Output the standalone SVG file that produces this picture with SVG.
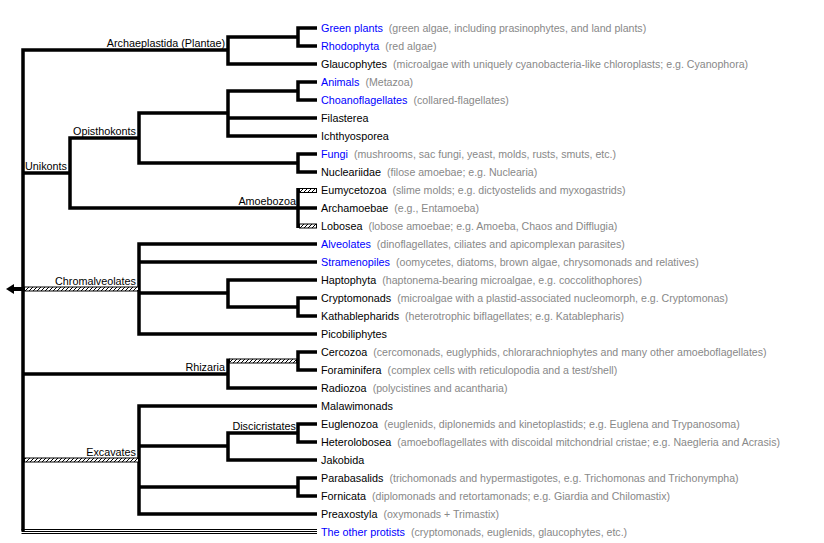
<svg xmlns="http://www.w3.org/2000/svg" width="824" height="543" viewBox="0 0 824 543">
<style>
text{font-family:"Liberation Sans",Arial,sans-serif;font-size:10.8px;fill:#000}
.b{fill:#0000ff}
.d{fill:#888888;font-size:10.6px}
.ln{fill:none;stroke:#000;stroke-width:3.5;stroke-linejoin:miter;stroke-linecap:butt}
.th{fill:none;stroke:#000;stroke-width:1}
.hb{fill:url(#hatch);stroke:#000;stroke-width:1}
</style>
<defs>
<pattern id="hatch" patternUnits="userSpaceOnUse" width="4" height="4">
<rect width="4" height="4" fill="#fff"/>
<path d="M-1,5 L5,-1" stroke="#000" stroke-width="1"/>
</pattern>
</defs>
<rect width="824" height="543" fill="#fff"/>
<g id="connectors">
<path class="ln" d="M228,50 H23 V531"/>
<path class="ln" d="M317,28 H298 V46 H317"/>
<path class="ln" d="M298,37 H228 V64 H317"/>
<path class="ln" d="M317,82 H298 V100 H317"/>
<path class="ln" d="M298,91 H228 V136 H317"/>
<path class="ln" d="M228,118 H317"/>
<path class="ln" d="M228,113 H139 V163 H298"/>
<path class="ln" d="M317,154 H298 V172 H317"/>
<path class="ln" d="M139,138 H70 V208 H317"/>
<path class="ln" d="M70,173 H23"/>
<path class="ln" d="M298,188 V228"/>
<rect class="hb" x="299.5" y="188.5" width="17" height="4"/>
<rect class="hb" x="299.5" y="224" width="17" height="4"/>
<path class="ln" d="M317,244 H139 V334 H317"/>
<path class="ln" d="M139,262 H317"/>
<path class="ln" d="M139,293 H228"/>
<path class="ln" d="M317,280 H228 V307 H298"/>
<path class="ln" d="M317,298 H298 V316 H317"/>
<rect class="hb" x="24.5" y="287" width="114" height="4"/>
<polygon points="6,289 14,284 14,294" fill="#000"/>
<rect x="14" y="287" width="8" height="4" fill="#000"/>
<path class="ln" d="M317,352 H298 V370 H317"/>
<rect class="hb" x="229.5" y="359" width="67" height="4"/>
<path class="ln" d="M228,358.5 V388 H317"/>
<path class="ln" d="M228,374 H23"/>
<path class="ln" d="M317,406 H139 V514 H317"/>
<path class="ln" d="M317,424 H298 V442 H317"/>
<path class="ln" d="M298,433 H228 V460 H317"/>
<path class="ln" d="M228,446 H139"/>
<path class="ln" d="M317,478 H298 V496 H317"/>
<path class="ln" d="M298,487 H139"/>
<rect class="hb" x="24.5" y="458" width="114" height="4"/>
<path class="th" d="M21.5,529.5 H317 M21.5,531.5 H317 M21.5,533.5 H317"/>
</g>
<g id="clade-labels">
<g id="archaeplastida"><text x="225" y="47" text-anchor="end">Archaeplastida (Plantae)</text></g>
<g id="opisthokonts"><text x="136" y="135" text-anchor="end">Opisthokonts</text></g>
<g id="unikonts"><text x="67" y="170" text-anchor="end">Unikonts</text></g>
<g id="amoebozoa"><text x="296" y="205" text-anchor="end">Amoebozoa</text></g>
<g id="chromalveolates"><text x="136" y="285" text-anchor="end">Chromalveolates</text></g>
<g id="rhizaria"><text x="225" y="371" text-anchor="end">Rhizaria</text></g>
<g id="discicristates"><text x="296" y="430" text-anchor="end">Discicristates</text></g>
<g id="excavates"><text x="136" y="456" text-anchor="end">Excavates</text></g>
</g>
<g id="leaves">
<g id="green-plants"><text x="321" y="32"><tspan class="b">Green plants</tspan> <tspan class="d" dx="3">(green algae, including prasinophytes, and land plants)</tspan></text></g>
<g id="rhodophyta"><text x="321" y="50"><tspan class="b">Rhodophyta</tspan> <tspan class="d" dx="3">(red algae)</tspan></text></g>
<g id="glaucophytes"><text x="321" y="68"><tspan>Glaucophytes</tspan> <tspan class="d" dx="3">(microalgae with uniquely cyanobacteria-like chloroplasts; e.g. Cyanophora)</tspan></text></g>
<g id="animals"><text x="321" y="86"><tspan class="b">Animals</tspan> <tspan class="d" dx="3">(Metazoa)</tspan></text></g>
<g id="choanoflagellates"><text x="321" y="104"><tspan class="b">Choanoflagellates</tspan> <tspan class="d" dx="3">(collared-flagellates)</tspan></text></g>
<g id="filasterea"><text x="321" y="122">Filasterea</text></g>
<g id="ichthyosporea"><text x="321" y="140">Ichthyosporea</text></g>
<g id="fungi"><text x="321" y="158"><tspan class="b">Fungi</tspan> <tspan class="d" dx="3">(mushrooms, sac fungi, yeast, molds, rusts, smuts, etc.)</tspan></text></g>
<g id="nucleariidae"><text x="321" y="176"><tspan>Nucleariidae</tspan> <tspan class="d" dx="3">(filose amoebae; e.g. Nuclearia)</tspan></text></g>
<g id="eumycetozoa"><text x="321" y="194"><tspan>Eumycetozoa</tspan> <tspan class="d" dx="3">(slime molds; e.g. dictyostelids and myxogastrids)</tspan></text></g>
<g id="archamoebae"><text x="321" y="212"><tspan>Archamoebae</tspan> <tspan class="d" dx="3">(e.g., Entamoeba)</tspan></text></g>
<g id="lobosea"><text x="321" y="230"><tspan>Lobosea</tspan> <tspan class="d" dx="3">(lobose amoebae; e.g. Amoeba, Chaos and Difflugia)</tspan></text></g>
<g id="alveolates"><text x="321" y="248"><tspan class="b">Alveolates</tspan> <tspan class="d" dx="3">(dinoflagellates, ciliates and apicomplexan parasites)</tspan></text></g>
<g id="stramenopiles"><text x="321" y="266"><tspan class="b">Stramenopiles</tspan> <tspan class="d" dx="3">(oomycetes, diatoms, brown algae, chrysomonads and relatives)</tspan></text></g>
<g id="haptophyta"><text x="321" y="284"><tspan>Haptophyta</tspan> <tspan class="d" dx="3">(haptonema-bearing microalgae, e.g. coccolithophores)</tspan></text></g>
<g id="cryptomonads"><text x="321" y="302"><tspan>Cryptomonads</tspan> <tspan class="d" dx="3">(microalgae with a plastid-associated nucleomorph, e.g. Cryptomonas)</tspan></text></g>
<g id="kathablepharids"><text x="321" y="320"><tspan>Kathablepharids</tspan> <tspan class="d" dx="3">(heterotrophic biflagellates; e.g. Katablepharis)</tspan></text></g>
<g id="picobiliphytes"><text x="321" y="338">Picobiliphytes</text></g>
<g id="cercozoa"><text x="321" y="356"><tspan>Cercozoa</tspan> <tspan class="d" dx="3">(cercomonads, euglyphids, chlorarachniophytes and many other amoeboflagellates)</tspan></text></g>
<g id="foraminifera"><text x="321" y="374"><tspan>Foraminifera</tspan> <tspan class="d" dx="3">(complex cells with reticulopodia and a test/shell)</tspan></text></g>
<g id="radiozoa"><text x="321" y="392"><tspan>Radiozoa</tspan> <tspan class="d" dx="3">(polycistines and acantharia)</tspan></text></g>
<g id="malawimonads"><text x="321" y="410">Malawimonads</text></g>
<g id="euglenozoa"><text x="321" y="428"><tspan>Euglenozoa</tspan> <tspan class="d" dx="3">(euglenids, diplonemids and kinetoplastids; e.g. Euglena and Trypanosoma)</tspan></text></g>
<g id="heterolobosea"><text x="321" y="446"><tspan>Heterolobosea</tspan> <tspan class="d" dx="3">(amoeboflagellates with discoidal mitchondrial cristae; e.g. Naegleria and Acrasis)</tspan></text></g>
<g id="jakobida"><text x="321" y="464">Jakobida</text></g>
<g id="parabasalids"><text x="321" y="482"><tspan>Parabasalids</tspan> <tspan class="d" dx="3">(trichomonads and hypermastigotes, e.g. Trichomonas and Trichonympha)</tspan></text></g>
<g id="fornicata"><text x="321" y="500"><tspan>Fornicata</tspan> <tspan class="d" dx="3">(diplomonads and retortamonads; e.g. Giardia and Chilomastix)</tspan></text></g>
<g id="preaxostyla"><text x="321" y="518"><tspan>Preaxostyla</tspan> <tspan class="d" dx="3">(oxymonads + Trimastix)</tspan></text></g>
<g id="other-protists"><text x="321" y="536"><tspan class="b">The other protists</tspan> <tspan class="d" dx="3">(cryptomonads, euglenids, glaucophytes, etc.)</tspan></text></g>
</g>
</svg>
